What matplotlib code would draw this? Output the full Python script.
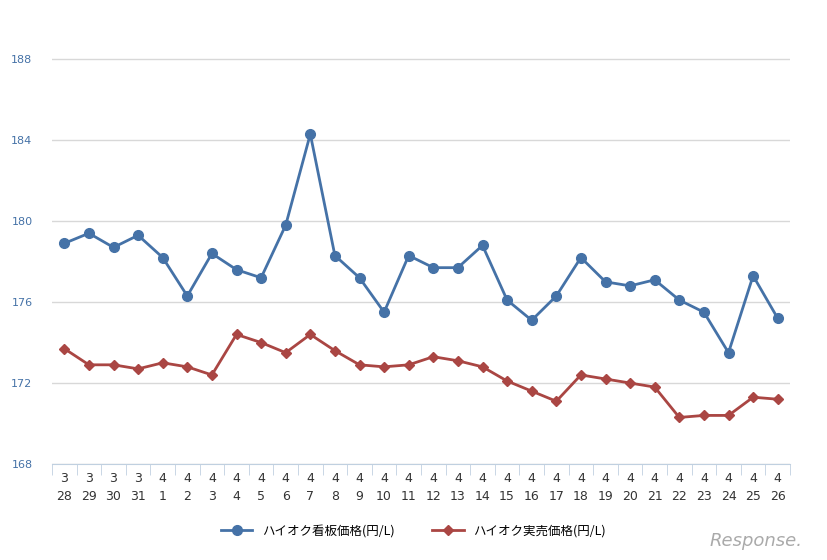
import matplotlib.pyplot as plt
import numpy as np

months = [3]*4 + [4]*26
days = [28, 29, 30, 31] + list(range(1, 27))
signboard = [178.9, 179.4, 178.7, 179.3, 178.2, 176.3, 178.4, 177.6, 177.2, 179.8,
             184.3, 178.3, 177.2, 175.5, 178.3, 177.7, 177.7, 178.8, 176.1, 175.1,
             176.3, 178.2, 177.0, 176.8, 177.1, 176.1, 175.5, 173.5, 177.3, 175.2]
actual = [173.7, 172.9, 172.9, 172.7, 173.0, 172.8, 172.4, 174.4, 174.0, 173.5,
          174.4, 173.6, 172.9, 172.8, 172.9, 173.3, 173.1, 172.8, 172.1, 171.6,
          171.1, 172.4, 172.2, 172.0, 171.8, 170.3, 170.4, 170.4, 171.3, 171.2]
yticks = [168, 172, 176, 180, 184, 188]

plt.rcParams['font.family'] = 'Noto Sans CJK JP'
fig = plt.figure(figsize=(8.27, 5.6), dpi=100)
ax = fig.add_axes([52/827, 1-464/560, 738/827, 420/560])
x = np.arange(len(days))
ax.plot(x, signboard, color='#4572A7', lw=2, marker='o', ms=7, label='ハイオク看板価格(円/L)')
ax.plot(x, actual, color='#AA4643', lw=2, marker='D', ms=5, label='ハイオク実売価格(円/L)')
ax.set_xlim(-0.5, len(days)-0.5)
ax.set_ylim(168, 188.75)
ax.set_yticks(yticks)
ax.set_yticklabels([str(v) for v in yticks], color='#4572A7', fontsize=8, fontfamily='DejaVu Sans')
ax.yaxis.grid(True, color='#d8d8d8', lw=1)
ax.set_axisbelow(True)
ax.tick_params(axis='y', length=0, pad=14)
ax.set_xticks(x)
ax.set_xticklabels([f'{m}\n{d}' for m, d in zip(months, days)], fontsize=9, color='#333333',
                   fontfamily='DejaVu Sans', linespacing=1.5)
ax.set_xticks(np.arange(-0.5, len(days)), minor=True)
ax.tick_params(axis='x', which='major', length=0, pad=6)
ax.tick_params(axis='x', which='minor', length=8, color='#C0D0E0')
for s in ['top', 'right', 'left']:
    ax.spines[s].set_visible(False)
ax.spines['bottom'].set_color('#C0D0E0')
fig.legend(loc='lower center', bbox_to_anchor=(0.5, 0.02), ncol=2, frameon=False, fontsize=9,
           handlelength=2.5, columnspacing=3)
fig.text(0.97, 0.025, 'Response.', ha='right', fontsize=13, color='#aaaaaa', style='italic',
         fontfamily='DejaVu Sans')
fig.savefig('out.png', dpi=100)
